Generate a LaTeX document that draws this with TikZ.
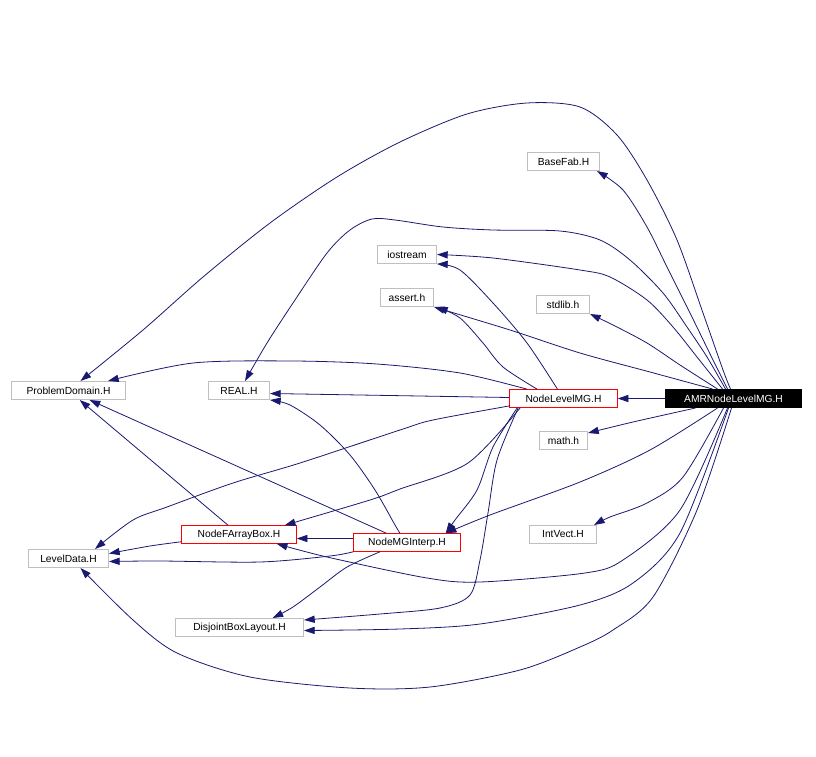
\documentclass[tikz,border=0pt]{standalone}
\usepackage{fontspec}
\setmainfont{Liberation Sans}
\usetikzlibrary{arrows.meta,calc}
\definecolor{edgec}{HTML}{191970}
\definecolor{grayb}{HTML}{BFBFBF}
\definecolor{redb}{RGB}{255,0,0}
\begin{document}
\begin{tikzpicture}[x=0.75pt,y=-0.75pt,
  box/.style={draw=grayb, line width=0.75pt, fill=white, minimum height=13.5pt, inner sep=0pt, font=\fontsize{7.7}{9}\selectfont},
  redbox/.style={fill=white, minimum height=13.5pt, inner sep=0pt, font=\fontsize{7.7}{9}\selectfont},
  redframe/.style={draw=redb, line width=0.75pt},
  rootbox/.style={draw=black, line width=0.75pt, fill=black, text=white, minimum height=13.5pt, inner sep=0pt, font=\fontsize{7.7}{9}\selectfont},
  edge/.style={draw=edgec, line width=0.6pt, -{Triangle[length=8pt,width=5.4pt]}},
  ]
\useasboundingbox (0,0) rectangle (816,756);

% nodes
\node[rootbox, minimum width=102pt] (amr) at (733.5,398.5) {AMRNodeLevelMG.H};
\node[redbox, minimum width=81pt] (nlmg) at (563.5,398.5) {NodeLevelMG.H};
\node[box, minimum width=85.5pt] (pd) at (68.5,390.5) {ProblemDomain.H};
\node[box, minimum width=45.75pt] (real) at (239,390.5) {REAL.H};
\node[redbox, minimum width=86.25pt] (nfab) at (239,534.5) {NodeFArrayBox.H};
\node[box, minimum width=60pt] (ld) at (68.5,558.5) {LevelData.H};
\node[redbox, minimum width=80.25pt] (nmg) at (407,542.5) {NodeMGInterp.H};
\node[box, minimum width=96pt] (dbl) at (239.5,627.5) {DisjointBoxLayout.H};
\node[box, minimum width=54pt] (bf) at (563.5,161.5) {BaseFab.H};
\node[box, minimum width=44.25pt] (ios) at (407,254.5) {iostream};
\node[box, minimum width=39.75pt] (asrt) at (407,297.5) {assert.h};
\node[box, minimum width=39.75pt] (stdl) at (563,304.5) {stdlib.h};
\node[box, minimum width=36pt] (mth) at (563.5,440.5) {math.h};
\node[box, minimum width=50.25pt] (iv) at (563,534.5) {IntVect.H};
\draw[redframe] (nlmg.south west) rectangle (nlmg.north east);
\draw[redframe] (nfab.south west) rectangle (nfab.north east);
\draw[redframe] (nmg.south west) rectangle (nmg.north east);

% edges from AMRNodeLevelMG.H
\draw[edge] (amr) -- (nlmg);
\draw[edge] plot[smooth] coordinates {([xshift=-2.25pt]amr.north) (723,370) (703,313) (677,240) (647,180) (617,135) (580,107) (527,103) (467,114) (400,142) (337,177) (270,223) (203,277) (143,330) ([xshift=9pt]pd.north)};
\draw[edge] plot[smooth] coordinates {([xshift=-4.5pt]amr.north) (713,360) (690,313) (667,267) (647,227) (623,190) ([xshift=-2.25pt]bf.south east)};
\draw[edge] plot[smooth] coordinates {([xshift=-6pt]amr.north) (707,357) (687,327) (663,293) (630,260) (600,240) (560,231) (493,230) (443,227) (395,220) (372,219) (350,230) (327,253) (293,303) (267,343) ([xshift=4.5pt]real.north)};
\draw[edge] plot[smooth] coordinates {([xshift=-8.25pt]amr.north) (697,357) (673,327) (647,300) (610,277) (580,270) (493,258) (ios.east)};
\draw[edge] plot[smooth] coordinates {([xshift=-15.75pt]amr.north) (650,372) (580,353) (510,330) (asrt.south east)};
\draw[edge] plot[smooth] coordinates {([xshift=-12pt]amr.north) (680,365) (647,343) (613,325) (stdl.south east)};
\draw[edge] plot[smooth] coordinates {([xshift=-28.5pt]amr.south) (633,422) ([yshift=-1.5pt]mth.north east)};
\draw[edge] plot[smooth] coordinates {([xshift=-7.5pt]amr.south) (683,477) (647,503) (610,517) ([xshift=-2.25pt]iv.north east)};
\draw[edge] plot[smooth] coordinates {([xshift=-12pt]amr.south) (650,450) (580,482) (490,515) ([xshift=-11.25pt]nmg.north east)};
\draw[edge] plot[smooth] coordinates {([xshift=-4.5pt]amr.south) (680,510) (623,560) (585,573) (480,582) (427,578) (327,557) ([xshift=-15pt]nfab.south east)};
\draw[edge] plot[smooth] coordinates {([xshift=-3.75pt]amr.south) (680,533) (633,583) (580,605) (480,624) (400,629) ([yshift=-2.25pt]dbl.east)};
\draw[edge] plot[smooth] coordinates {([xshift=-1.5pt]amr.south) (697,510) (653,597) (613,630) (580,647) (520,670) (430,687) (350,688) (250,677) (177,653) (133,620) ([xshift=9pt]ld.south)};

% edges from NodeLevelMG.H
\draw[edge] plot[smooth] coordinates {([xshift=13.5pt]nlmg.north west) (460,373) (377,364) (293,361) (193,363) ([xshift=-13.5pt]pd.north east)};
\draw[edge] ([yshift=0.75pt]nlmg.west) -- ([yshift=-2.25pt]real.east);
\draw[edge] plot[smooth] coordinates {([xshift=-4.5pt]nlmg.north) (527,343) (493,303) (460,270) (ios.south east)};
\draw[edge] plot[smooth] coordinates {([xshift=21pt]nlmg.north west) (503,367) (483,343) (460,318) ([xshift=2.25pt]asrt.south east)};
\draw[edge] plot[smooth] coordinates {([xshift=0.75pt,yshift=1.5pt]nlmg.south west) (433,420) (400,430) (300,463) (233,483) (167,507) (133,520) ([xshift=-10.5pt]ld.north east)};
\draw[edge] plot[smooth] coordinates {([xshift=8.25pt]nlmg.south west) (468,463) (400,489) (370,500) ([xshift=-9pt]nfab.north east)};
\draw[edge] plot[smooth] coordinates {([xshift=6pt]nlmg.south west) (493,447) (477,490) (455,520) ([xshift=-11.25pt]nmg.north east)};
\draw[edge] plot[smooth] coordinates {([xshift=6.75pt]nlmg.south west) (497,460) (488,513) (480,560) (470,595) (440,608) (380,614) ([yshift=-1.5pt]dbl.north east)};

% edges from NodeMGInterp.H
\draw[edge] ([yshift=3pt]nmg.west) -- ([yshift=-3pt]nfab.east);
\draw[edge] plot[smooth] coordinates {([xshift=-5.25pt]nmg.north) (395,525) (375,490) (350,455) (320,425) (290,405) (real.south east)};
\draw[edge] (nmg) -- (pd);
\draw[edge] plot[smooth] coordinates {(nmg.south west) (330,556) (260,562) (160,561) ([yshift=-2.25pt]ld.east)};
\draw[edge] plot[smooth] coordinates {([xshift=-20.25pt]nmg.south) (347,567) (320,587) (293,607) ([xshift=24.75pt]dbl.north)};

% edges from NodeFArrayBox.H
\draw[edge] (nfab) -- (pd);
\draw[edge] plot[smooth] coordinates {([yshift=1.5pt]nfab.south west) (150,546) ([yshift=3.75pt]ld.east)};
\end{tikzpicture}
\end{document}
